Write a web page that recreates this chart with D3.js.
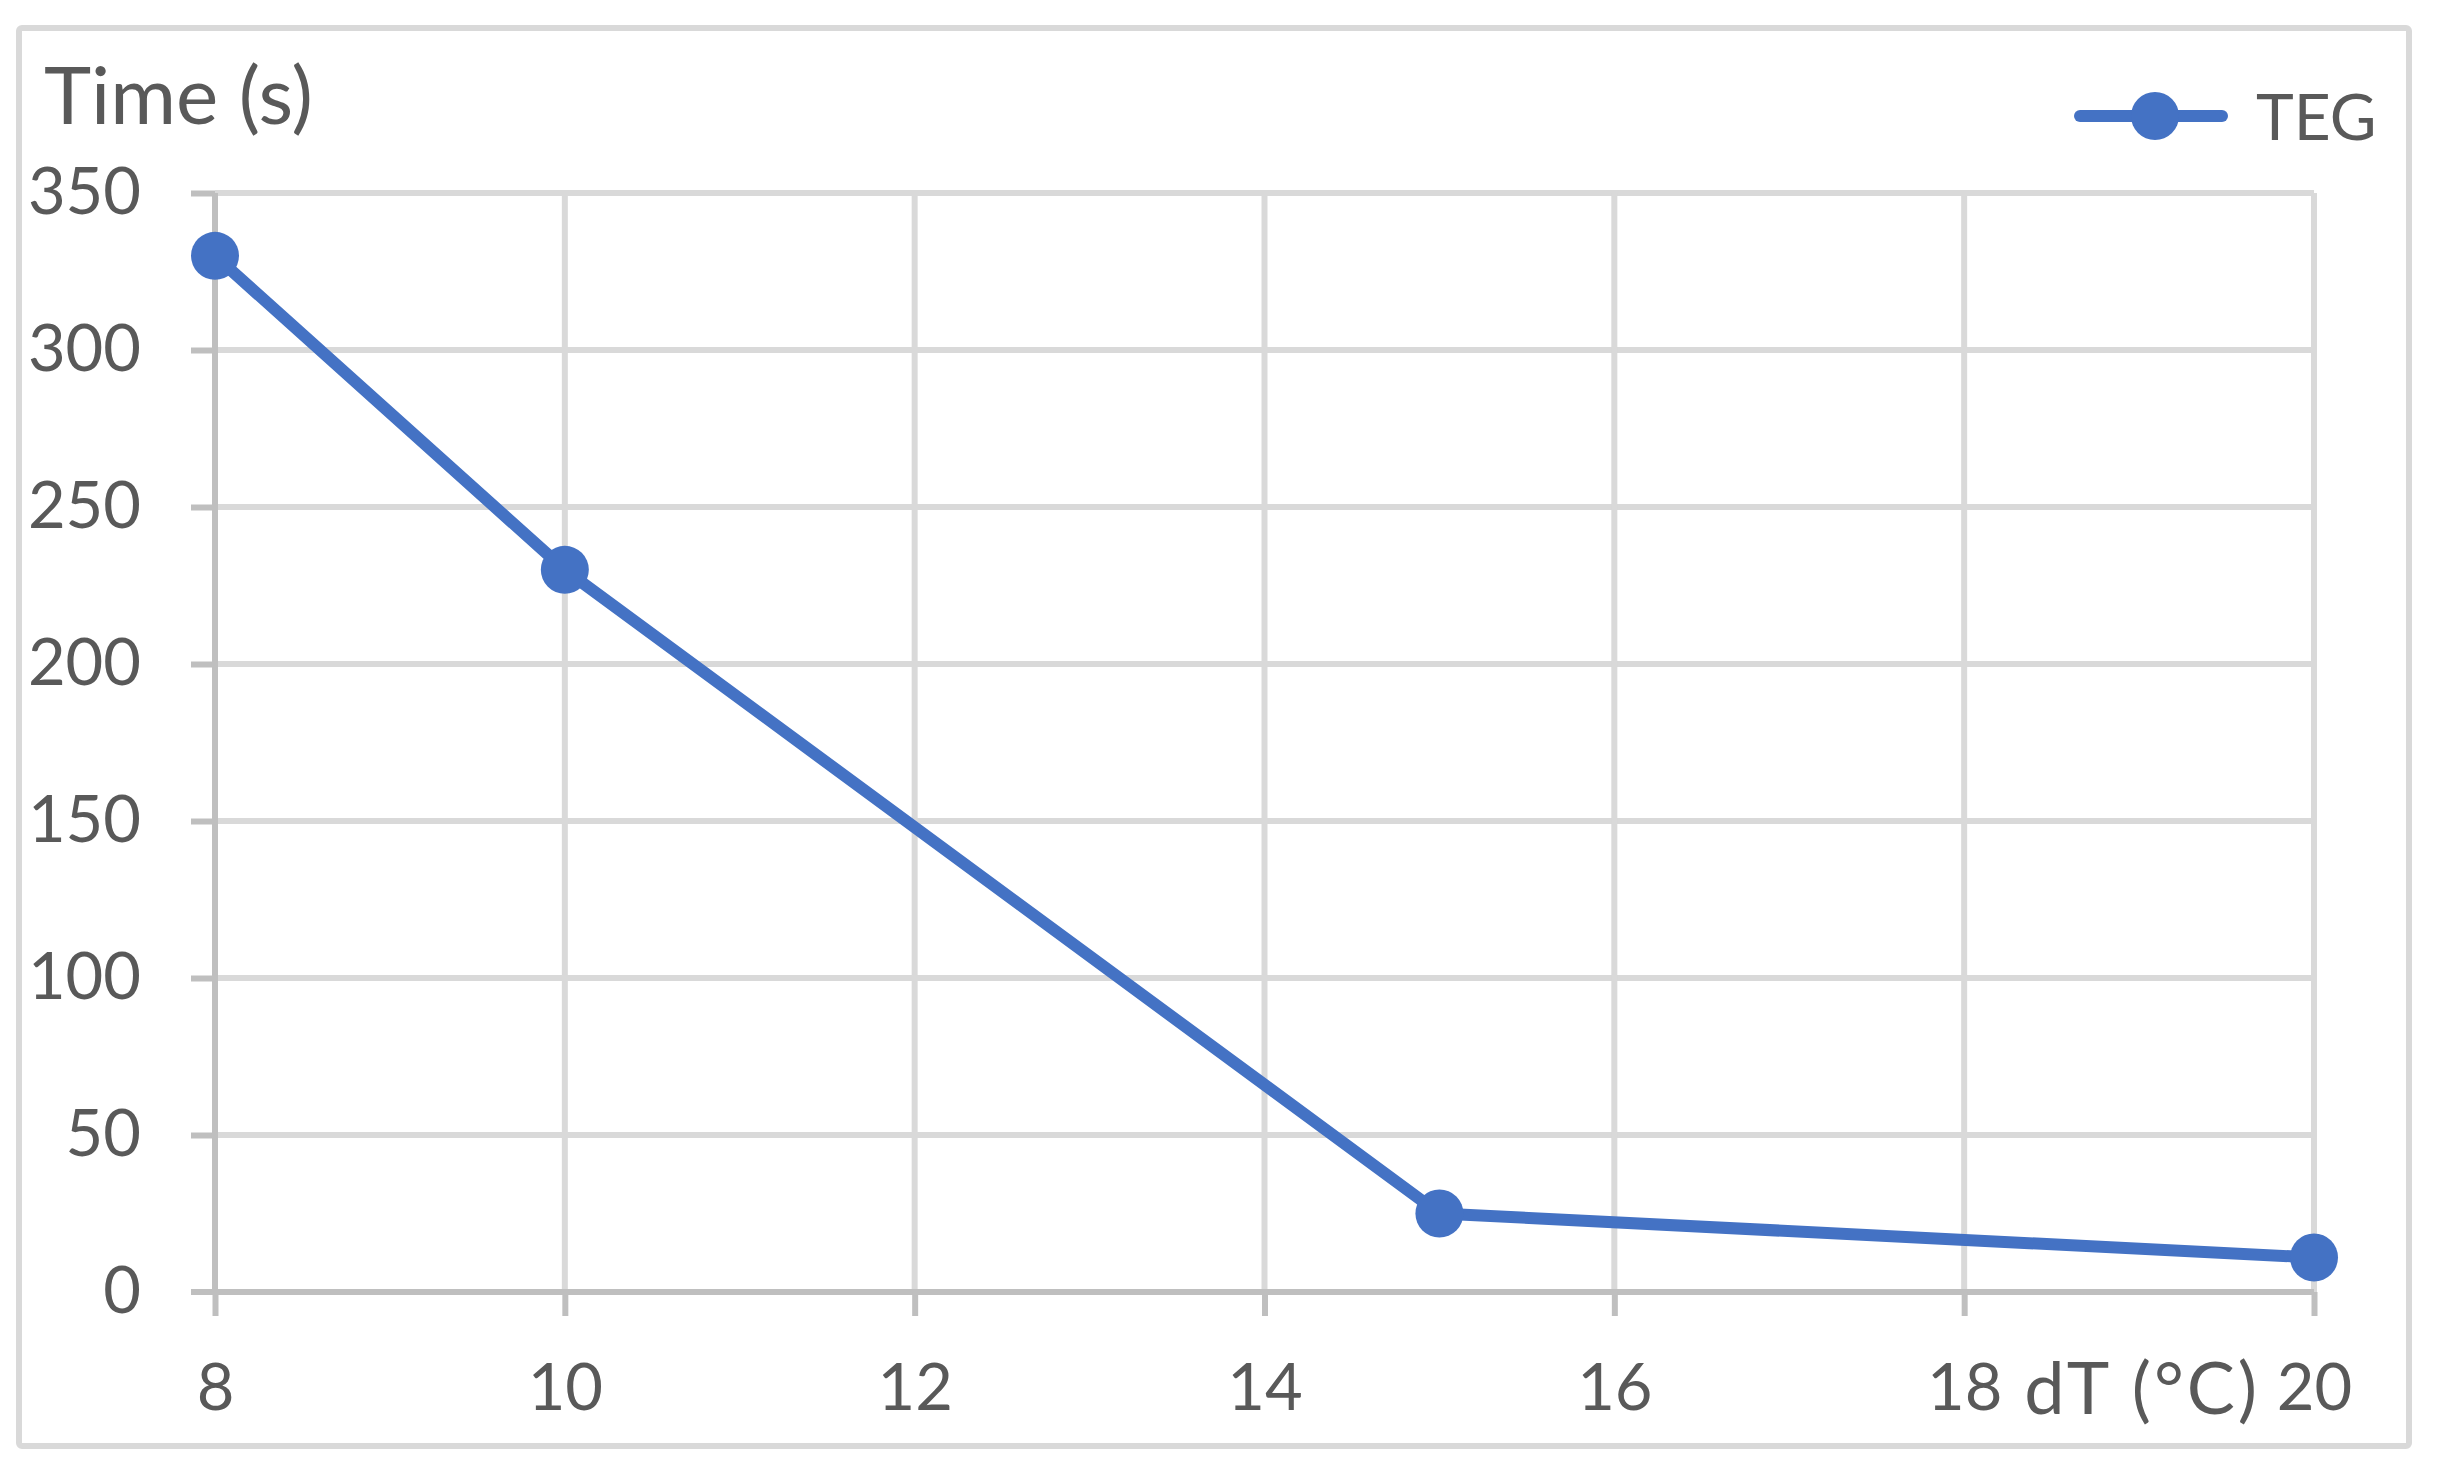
<!DOCTYPE html>
<html>
<head>
<meta charset="utf-8">
<script src="https://cdn.jsdelivr.net/npm/d3@7"></script>
<style>
  body { margin: 0; background: #fff; }
  text { font-family: Lato, "Noto Sans", sans-serif; fill: #595959; }
</style>
</head>
<body>
<svg width="2437" height="1470"></svg>
<script>
// data
const dT = [8, 10, 15, 20];
const time = [330, 230, 25, 11];
const xTicks = [8, 10, 12, 14, 16, 18, 20];
const yTicks = [0, 50, 100, 150, 200, 250, 300, 350];
const seriesName = "TEG";

(function() {
    const svg = d3.select("svg");
    const W = +svg.attr("width"), H = +svg.attr("height");
    const blue = "#4472c4", grid = "#d9d9d9", axisCol = "#bfbfbf";

    const pLeft = 215, pRight = 2314, pTop = 193, pBottom = 1292;

    var x = d3.scaleLinear().domain([8, 20]).range([pLeft, pRight]),
        y = d3.scaleLinear().domain([0, 350]).range([pBottom, pTop]);

    svg.append("rect").attr("width", W).attr("height", H).attr("fill", "#fff");

    // chart border
    svg.append("rect")
        .attr("x", 19).attr("y", 28).attr("width", 2390).attr("height", 1418)
        .attr("rx", 3)
        .attr("fill", "none").attr("stroke", grid).attr("stroke-width", 6);

    // gridlines
    svg.append("g").selectAll("line").data(yTicks.slice(1)).join("line")
        .attr("x1", pLeft).attr("x2", pRight)
        .attr("y1", d => y(d)).attr("y2", d => y(d))
        .attr("stroke", grid).attr("stroke-width", 6);
    svg.append("g").selectAll("line").data(xTicks.slice(1)).join("line")
        .attr("x1", d => x(d)).attr("x2", d => x(d))
        .attr("y1", pTop).attr("y2", pBottom)
        .attr("stroke", grid).attr("stroke-width", 6);

    // axes
    var yAxis = d3.axisLeft(y).tickValues(yTicks).tickSize(24).tickPadding(50),
        xAxis = d3.axisBottom(x).tickValues(xTicks).tickSize(24).tickPadding(48);

    var gy = svg.append("g").attr("transform", "translate(" + pLeft + ",0)").call(yAxis);
    var gx = svg.append("g").attr("transform", "translate(0," + pBottom + ")").call(xAxis);

    [gx, gy].forEach(g => {
        g.select(".domain").attr("stroke", axisCol).attr("stroke-width", 6)
            .attr("d", g === gx ? "M" + (pLeft - 24) + ",0H" + pRight : "M0," + pTop + "V" + pBottom);
        g.selectAll(".tick line").attr("stroke", axisCol).attr("stroke-width", 6);
        g.selectAll(".tick text").style("font-size", "65px").attr("fill", "#595959");
    });
    gy.selectAll(".tick line").filter(d => d === 0).remove();

    // axis titles
    svg.append("text").attr("x", 44).attr("y", 124)
        .style("font-size", "80px").text("Time (s)");
    svg.append("text").attr("x", x(18) + 60).attr("y", 1414)
        .style("font-size", "72px").attr("letter-spacing", 3).text("dT (°C)");

    // series
    const pts = dT.map((d, i) => [d, time[i]]);
    svg.append("path").datum(pts)
        .attr("fill", "none").attr("stroke", blue).attr("stroke-width", 12)
        .attr("stroke-linejoin", "round")
        .attr("d", d3.line().x(d => x(d[0])).y(d => y(d[1])));
    svg.append("g").selectAll("circle").data(pts).join("circle")
        .attr("cx", d => x(d[0])).attr("cy", d => y(d[1])).attr("r", 24)
        .attr("fill", blue);

    // legend
    const lg = svg.append("g");
    lg.append("line").attr("x1", 2080).attr("x2", 2222).attr("y1", 116).attr("y2", 116)
        .attr("stroke", blue).attr("stroke-width", 12).attr("stroke-linecap", "round");
    lg.append("circle").attr("cx", 2155).attr("cy", 116).attr("r", 24).attr("fill", blue);
    lg.append("text").attr("x", 2256).attr("y", 140).style("font-size", "64px").text(seriesName);
})();
</script>
</body>
</html>
